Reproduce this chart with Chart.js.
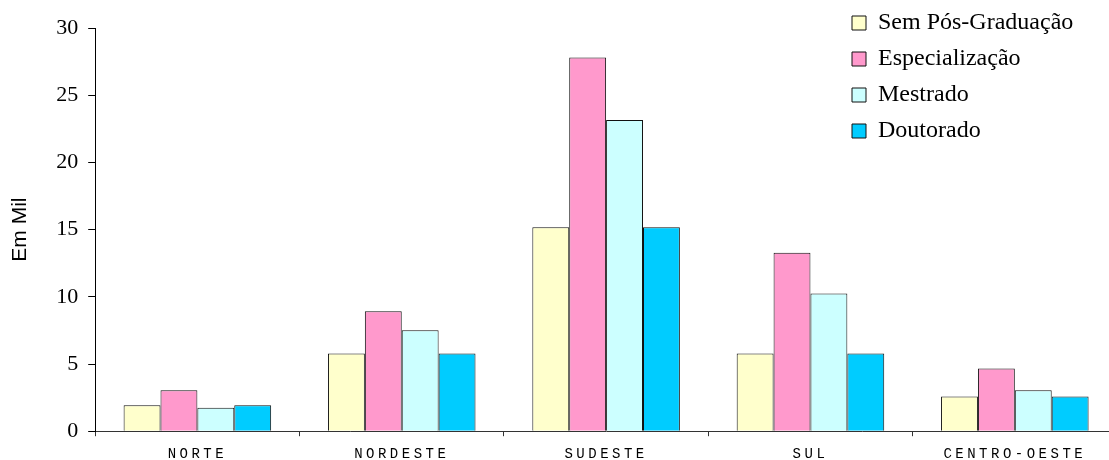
<!DOCTYPE html>
<html lang="pt">
<head>
<meta charset="utf-8">
<title>Em Mil por região</title>
<script src="https://cdn.jsdelivr.net/npm/chart.js@4.4.1/dist/chart.umd.min.js"></script>
<style>
  html, body { margin: 0; padding: 0; background: #ffffff; overflow: hidden; }
  #wrap { width: 1118px; height: 460px; }
</style>
</head>
<body>
<div id="wrap"><canvas id="chart" width="1118" height="460"></canvas></div>
<script>
// Regiões e valores (em mil)
const regioes = ['NORTE', 'NORDESTE', 'SUDESTE', 'SUL', 'CENTRO-OESTE'];
const semPosGraduacao = [1.94, 5.78, 15.18, 5.78, 2.59];
const especializacao  = [3.04, 8.93, 27.80, 13.28, 4.66];
const mestrado        = [1.75, 7.52, 23.16, 10.25, 3.04];
const doutorado       = [1.94, 5.78, 15.18, 5.78, 2.59];
const nomesSeries = ['Sem Pós-Graduação', 'Especialização', 'Mestrado', 'Doutorado'];
const yTicks = [0, 5, 10, 15, 20, 25, 30];

// Eixo de categorias com rótulos espaçados
class SpacedCategoryScale extends Chart.CategoryScale {
  drawLabels(chartArea) {
    const ctx = this.ctx;
    ctx.save();
    ctx.letterSpacing = '3.5px';
    super.drawLabels(chartArea);
    ctx.restore();
  }
}
SpacedCategoryScale.id = 'spacedCategory';
SpacedCategoryScale.defaults = Chart.CategoryScale.defaults;
Chart.register(SpacedCategoryScale);

// Coloca a legenda no canto superior direito, sobre a área do gráfico
const legendaCanto = {
  id: 'legendaCanto',
  afterLayout(chart) {
    const lg = chart.legend;
    if (!lg) return;
    const w = lg.width, h = lg.height;
    lg.left = 840;
    lg.top = -1;
    lg.right = lg.left + w;
    lg.bottom = lg.top + h;
    if (lg.adjustHitBoxes) lg.adjustHitBoxes();
  }
};

const cores = ['#FFFFCC', '#FF99CC', '#CCFFFF', '#00CCFF'];
const valores = [semPosGraduacao, especializacao, mestrado, doutorado];

new Chart(document.getElementById('chart'), {
  type: 'bar',
  data: {
    labels: regioes,
    datasets: nomesSeries.map((nome, i) => ({
      label: nome,
      data: valores[i],
      backgroundColor: cores[i],
      borderColor: '#111111',
      borderWidth: 1,
      categoryPercentage: 0.722,
      barPercentage: 1.0
    }))
  },
  plugins: [legendaCanto],
  options: {
    responsive: false,
    animation: false,
    layout: { padding: { top: 28, right: 1, bottom: -13, left: 0 } },
    plugins: {
      tooltip: { enabled: false },
      legend: {
        position: 'chartArea',
        align: 'start',
        labels: {
          boxWidth: 14,
          boxHeight: 14,
          padding: 12,
          color: '#000000',
          font: { family: '"Liberation Serif", "Times New Roman", serif', size: 24 }
        }
      }
    },
    scales: {
      x: {
        type: 'spacedCategory',
        offset: true,
        grid: {
          offset: true,
          drawOnChartArea: false,
          drawTicks: true,
          tickLength: 5,
          color: '#333333'
        },
        border: { display: true, color: '#333333', width: 1 },
        ticks: {
          autoSkip: false,
          maxRotation: 0,
          padding: 10,
          color: '#000000',
          font: { family: '"Liberation Mono", "Courier New", monospace', size: 14 }
        }
      },
      y: {
        min: 0,
        max: 30,
        afterBuildTicks(scale) { scale.ticks = yTicks.map(v => ({ value: v })); },
        grid: {
          drawOnChartArea: false,
          drawTicks: true,
          tickLength: 7,
          color: '#000000'
        },
        border: { display: true, color: '#000000', width: 1 },
        ticks: {
          padding: 10,
          color: '#000000',
          font: { family: '"Liberation Serif", "Times New Roman", serif', size: 22 }
        },
        title: {
          display: true,
          text: 'Em Mil',
          color: '#000000',
          padding: { top: 8, bottom: 13 },
          font: { family: '"Liberation Sans", Arial, sans-serif', size: 21 }
        }
      }
    }
  }
});
</script>
</body>
</html>
